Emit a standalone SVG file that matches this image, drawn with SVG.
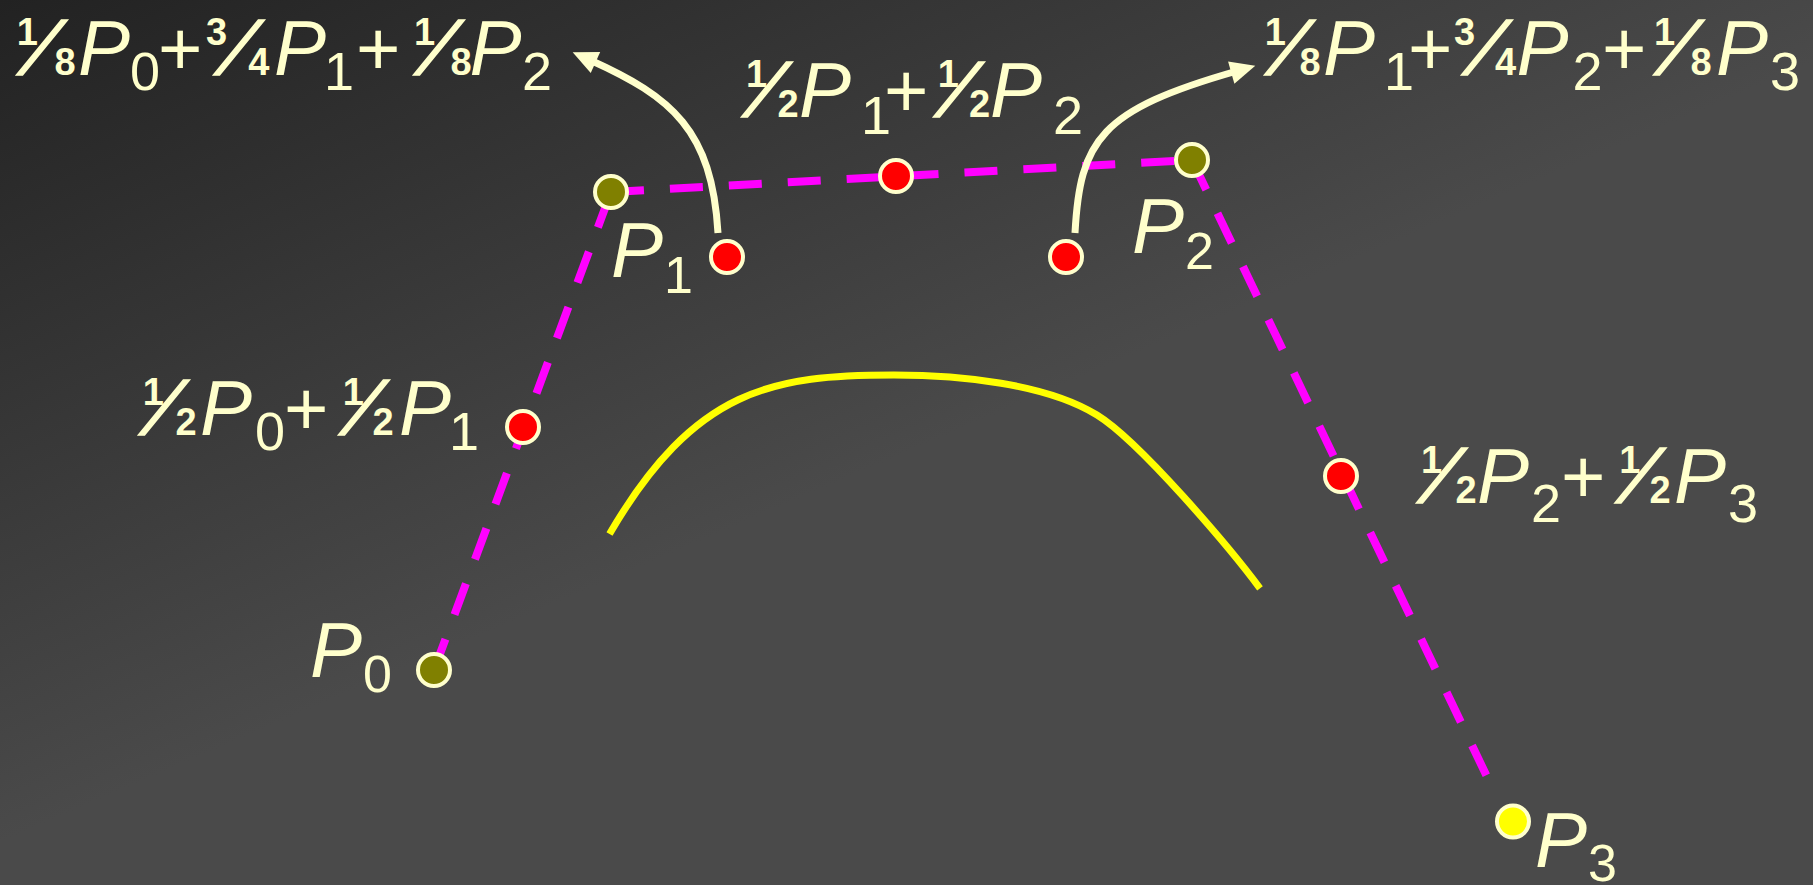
<svg xmlns="http://www.w3.org/2000/svg" width="1813" height="885" viewBox="0 0 1813 885">
<defs>
<linearGradient id="bg" gradientUnits="userSpaceOnUse" x1="0" y1="0" x2="306" y2="711">
<stop offset="0" stop-color="#222222"/>
<stop offset="1" stop-color="#4a4a4a"/>
</linearGradient>
<marker id="ah" markerUnits="userSpaceOnUse" viewBox="-10 -15 40 30" markerWidth="40" markerHeight="30" refX="0" refY="0" orient="auto">
<path d="M -6 -11.5 L 19 0 L -6 11.5 z" fill="#ffffcc"/>
</marker>
<style>
.t { font-family: "Liberation Sans", Arial, sans-serif; fill: #ffffcc; }
.fn { font-size: 38px; font-weight: bold; }
.fd { font-size: 38px; font-weight: bold; text-anchor: end; }
.fs { font-size: 80px; font-style: italic; text-anchor: middle; stroke: #ffffcc; stroke-width: 1.5; }
.pl { font-size: 76px; }
.p { font-size: 78px; font-style: italic; }
.sb { font-size: 54px; }
.sl { font-size: 52px; }
.dash { fill: none; stroke: #ff00ff; stroke-width: 8; stroke-dasharray: 33 26; }
.arr { fill: none; stroke: #ffffcc; stroke-width: 7; marker-end: url(#ah); }
.pt { stroke: #ffffcc; stroke-width: 4; }
.ctl { fill: #808000; }
.mid { fill: #ff0000; }
.end { fill: #ffff00; }
</style>
</defs>
<rect x="0" y="0" width="1813" height="885" fill="url(#bg)"/>

<g id="connectors">
<line class="dash" x1="434" y1="670" x2="611" y2="192"/>
<line class="dash" x1="611" y1="192" x2="1192" y2="160"/>
<line class="dash" x1="1192" y1="160" x2="1490" y2="783"/>
<path class="arr" d="M 718 233 C 712 130, 672 97, 590 60"/>
<path class="arr" d="M 1075 233 C 1080 140, 1100 110, 1237 71"/>
</g>

<g id="curve">
<path d="M 609.5 534 C 695 387.3, 774 375, 894 375 C 960 375, 1045.9 383.6, 1097 415 C 1139.6 441.2, 1230.1 548.2, 1260 588.3" fill="none" stroke="#ffff00" stroke-width="7"/>
</g>

<g id="P0">
<circle class="pt ctl" cx="434" cy="670" r="16"/>
<text class="t"><tspan class="p" x="310" y="676.7">P</tspan><tspan class="sl" x="363" y="691.7">0</tspan></text>
</g>
<g id="P1">
<circle class="pt ctl" cx="611" cy="192" r="16"/>
<text class="t"><tspan class="p" x="611" y="276.7">P</tspan><tspan class="sl" x="664" y="293">1</tspan></text>
</g>
<g id="P2">
<circle class="pt ctl" cx="1192" cy="160" r="16"/>
<text class="t"><tspan class="p" x="1132" y="253.3">P</tspan><tspan class="sl" x="1185" y="269">2</tspan></text>
</g>
<g id="P3">
<circle class="pt end" cx="1513" cy="821.5" r="16"/>
<text class="t"><tspan class="p" x="1535" y="866.7">P</tspan><tspan class="sl" x="1588" y="881">3</tspan></text>
</g>

<g id="M01">
<circle class="pt mid" cx="523" cy="427" r="16"/>
<text class="t">
<tspan class="fn" x="142.7" y="405">1</tspan><tspan class="fs" x="167" y="435">⁄</tspan><tspan class="fd" x="201" y="435">2</tspan>
<tspan class="p" x="200" y="435">P</tspan><tspan class="sb" x="255" y="450">0</tspan>
<tspan class="pl" x="284" y="435">+</tspan>
<tspan class="fn" x="342.7" y="405">1</tspan><tspan class="fs" x="367" y="435">⁄</tspan><tspan class="fd" x="398" y="435">2</tspan>
<tspan class="p" x="399" y="435">P</tspan><tspan class="sb" x="449" y="450">1</tspan>
</text>
</g>
<g id="M12">
<circle class="pt mid" cx="896" cy="176" r="16"/>
<text class="t">
<tspan class="fn" x="746" y="87">1</tspan><tspan class="fs" x="770" y="117">⁄</tspan><tspan class="fd" x="803" y="117">2</tspan>
<tspan class="p" x="799" y="117">P</tspan><tspan class="sb" x="861" y="134">1</tspan>
<tspan class="pl" x="884" y="117">+</tspan>
<tspan class="fn" x="937.7" y="87">1</tspan><tspan class="fs" x="962" y="117">⁄</tspan><tspan class="fd" x="994.7" y="117">2</tspan>
<tspan class="p" x="990" y="117">P</tspan><tspan class="sb" x="1053" y="134">2</tspan>
</text>
</g>
<g id="M23">
<circle class="pt mid" cx="1341" cy="476" r="16"/>
<text class="t">
<tspan class="fn" x="1421" y="473">1</tspan><tspan class="fs" x="1445" y="503">⁄</tspan><tspan class="fd" x="1481" y="503">2</tspan>
<tspan class="p" x="1477" y="503">P</tspan><tspan class="sb" x="1531" y="522">2</tspan>
<tspan class="pl" x="1561" y="503">+</tspan>
<tspan class="fn" x="1619.3" y="473">1</tspan><tspan class="fs" x="1643.5" y="503">⁄</tspan><tspan class="fd" x="1675" y="503">2</tspan>
<tspan class="p" x="1674" y="503">P</tspan><tspan class="sb" x="1728" y="522">3</tspan>
</text>
</g>
<g id="Q1">
<circle class="pt mid" cx="727" cy="257" r="16"/>
<text class="t">
<tspan class="fn" x="16.8" y="45">1</tspan><tspan class="fs" x="45" y="75">⁄</tspan><tspan class="fd" x="80" y="75">8</tspan>
<tspan class="p" x="78" y="75">P</tspan><tspan class="sb" x="130" y="90">0</tspan>
<tspan class="pl" x="158" y="75">+</tspan>
<tspan class="fn" x="206" y="45">3</tspan><tspan class="fs" x="242" y="75">⁄</tspan><tspan class="fd" x="273.8" y="75">4</tspan>
<tspan class="p" x="274" y="75">P</tspan><tspan class="sb" x="324" y="90">1</tspan>
<tspan class="pl" x="356" y="75">+</tspan>
<tspan class="fn" x="414" y="45">1</tspan><tspan class="fs" x="442" y="75">⁄</tspan><tspan class="fd" x="476" y="75">8</tspan>
<tspan class="p" x="469.5" y="75">P</tspan><tspan class="sb" x="522" y="90">2</tspan>
</text>
</g>
<g id="Q2">
<circle class="pt mid" cx="1066" cy="257" r="16"/>
<text class="t">
<tspan class="fn" x="1264.8" y="45">1</tspan><tspan class="fs" x="1293" y="75">⁄</tspan><tspan class="fd" x="1325" y="75">8</tspan>
<tspan class="p" x="1323" y="75">P</tspan><tspan class="sb" x="1384" y="90">1</tspan>
<tspan class="pl" x="1408" y="75">+</tspan>
<tspan class="fn" x="1454" y="45">3</tspan><tspan class="fs" x="1490" y="75">⁄</tspan><tspan class="fd" x="1520.6" y="75">4</tspan>
<tspan class="p" x="1516.6" y="75">P</tspan><tspan class="sb" x="1572.5" y="90">2</tspan>
<tspan class="pl" x="1602" y="75">+</tspan>
<tspan class="fn" x="1654" y="45">1</tspan><tspan class="fs" x="1682" y="75">⁄</tspan><tspan class="fd" x="1716" y="75">8</tspan>
<tspan class="p" x="1716" y="75">P</tspan><tspan class="sb" x="1770" y="90">3</tspan>
</text>
</g>
</svg>
